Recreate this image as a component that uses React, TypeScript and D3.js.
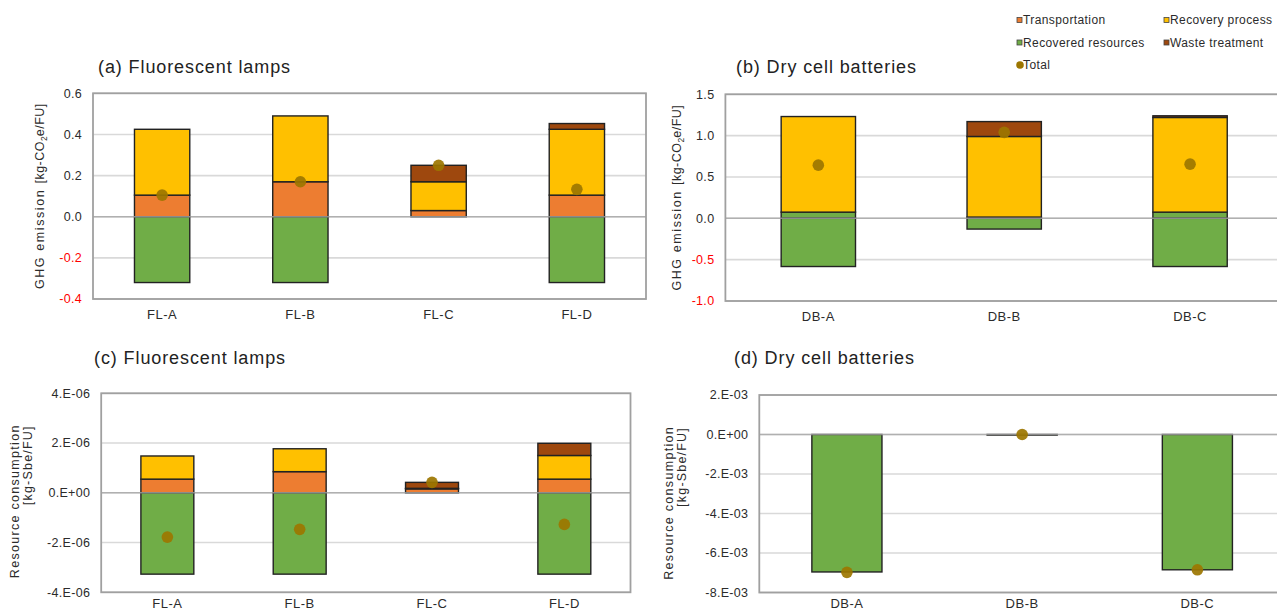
import * as d3 from "d3";

// ---- data ----
const flCategories = ["FL-A", "FL-B", "FL-C", "FL-D"];
const dbCategories = ["DB-A", "DB-B", "DB-C"];

// (a) GHG emission, fluorescent lamps [kg-CO2e/FU]
const flGhgTransport = [0.105, 0.17, 0.03, 0.105];
const flGhgRecovery = [0.32, 0.32, 0.14, 0.32];
const flGhgWaste = [0, 0, 0.08, 0.028];
const flGhgResources = [-0.32, -0.32, 0, -0.32];
const flGhgTotal = [0.105, 0.17, 0.25, 0.133];

// (b) GHG emission, dry cell batteries [kg-CO2e/FU]
const dbGhgResourcesGain = [0.075, 0.015, 0.075];
const dbGhgTransport = [0, 0, 0];
const dbGhgRecovery = [1.156, 0.975, 1.145];
const dbGhgWaste = [0, 0.18, 0.02];
const dbGhgResources = [-0.583, -0.13, -0.583];
const dbGhgTotal = [0.643, 1.04, 0.655];

// (c) resource consumption, fluorescent lamps [kg-Sbe/FU]
const flResTransport = [0.55e-6, 0.85e-6, 0.16e-6, 0.55e-6];
const flResRecovery = [0.93e-6, 0.92e-6, 0.02e-6, 0.95e-6];
const flResWaste = [0, 0, 0.24e-6, 0.49e-6];
const flResResources = [-3.27e-6, -3.27e-6, 0, -3.27e-6];
const flResTotal = [-1.78e-6, -1.47e-6, 0.42e-6, -1.27e-6];

// (d) resource consumption, dry cell batteries [kg-Sbe/FU]
const dbResTransport = [0, 0, 0];
const dbResRecovery = [0, 0, 0];
const dbResWaste = [0, 0, 0];
const dbResResources = [-6.96e-3, -0.03e-3, -6.85e-3];
const dbResTotal = [-6.98e-3, 0, -6.85e-3];

const legendItems = ["Transportation", "Recovery process", "Recovered resources", "Waste treatment", "Total"];

const C = {
  transport: "#ED7D31",
  recovery: "#FFC000",
  resources: "#70AD47",
  waste: "#9E480E",
  total: "#9c7600",
};

const font = "'Liberation Sans', Arial, sans-serif";
const textColor = "#2b2b2b";

const fixed1 = (v: number) => {
  const s = v.toFixed(1);
  return s === "-0.0" ? "0.0" : s;
};

const sci = (v: number) => {
  if (Math.abs(v) < 1e-15) return "0.E+00";
  const e = Math.floor(Math.log10(Math.abs(v)) + 1e-9);
  const m = Math.round(v / Math.pow(10, e));
  const es = e < 0 ? "-" + String(-e).padStart(2, "0") : "+" + String(e).padStart(2, "0");
  return `${m}.E${es}`;
};

type Series = { color: string; values: number[] };

type PanelCfg = {
  title: string;
  titleX: number;
  titleY: number;
  left: number;
  right: number;
  top: number;
  bottom: number;
  domain: [number, number];
  step: number;
  format: (v: number) => string;
  redNegatives: boolean;
  categories: string[];
  series: Series[];
  totals: number[];
  yTitle: "ghg" | "res";
  yTitleX: number;
};

function Panel({ cfg }: { cfg: PanelCfg }) {
  const x = d3
    .scaleBand<string>()
    .domain(cfg.categories)
    .range([cfg.left, cfg.right])
    .paddingInner(0.6)
    .paddingOuter(0.3);
  const y = d3.scaleLinear().domain(cfg.domain).range([cfg.bottom, cfg.top]);
  const [d0, d1] = cfg.domain;
  const ticks = d3.range(Math.round((d1 - d0) / cfg.step) + 1).map((i) => d0 + i * cfg.step);

  const rects: JSX.Element[] = [];
  cfg.categories.forEach((c, i) => {
    let pos = 0;
    let neg = 0;
    cfg.series.forEach((s, j) => {
      const v = s.values[i];
      if (!v) return;
      let a: number, b: number;
      if (v > 0) {
        a = pos;
        b = pos + v;
        pos = b;
      } else {
        a = neg + v;
        b = neg;
        neg = a;
      }
      rects.push(
        <rect
          key={`${c}-${j}`}
          x={x(c)}
          width={x.bandwidth()}
          y={y(b)}
          height={Math.max(0.6, y(a) - y(b))}
          fill={s.color}
          stroke="#222"
          strokeWidth={1.4}
        />
      );
    });
  });

  const cy = (cfg.top + cfg.bottom) / 2;
  // keep category labels inside the picture
  const labelY = Math.min(cfg.bottom + 20, 607.5);

  return (
    <g fontFamily={font}>
      <text x={cfg.titleX} y={cfg.titleY} fontSize={18} letterSpacing={0.9} fill="#222">
        {cfg.title}
      </text>
      {ticks.map((t) => (
        <line key={"g" + t} x1={cfg.left} x2={cfg.right} y1={y(t)} y2={y(t)} stroke="#d9d9d9" strokeWidth={1.6} />
      ))}
      {rects}
      <line x1={cfg.left} x2={cfg.right} y1={y(0)} y2={y(0)} stroke="#a6a6a6" strokeWidth={1.4} opacity={0.8} />
      <rect
        x={cfg.left}
        y={cfg.top}
        width={cfg.right - cfg.left}
        height={cfg.bottom - cfg.top}
        fill="none"
        stroke="#a0a0a0"
        strokeWidth={1.8}
      />
      {ticks.map((t) => (
        <text
          key={"t" + t}
          x={cfg.left - 11}
          y={y(t)}
          dy="0.35em"
          textAnchor="end"
          fontSize={12.5}
          letterSpacing={0.3}
          fill={cfg.redNegatives && t < -1e-12 ? "#ff0000" : textColor}
        >
          {cfg.format(t)}
        </text>
      ))}
      {cfg.categories.map((c) => (
        <text
          key={"x" + c}
          x={(x(c) ?? 0) + x.bandwidth() / 2}
          y={labelY}
          textAnchor="middle"
          fontSize={13}
          letterSpacing={0.5}
          fill={textColor}
        >
          {c}
        </text>
      ))}
      {cfg.totals.map((t, i) => (
        <circle
          key={"d" + i}
          cx={(x(cfg.categories[i]) ?? 0) + x.bandwidth() / 2}
          cy={y(t)}
          r={5.8}
          fill={C.total}
          opacity={0.92}
        />
      ))}
      {cfg.yTitle === "ghg" ? (
        <text
          transform={`translate(${cfg.yTitleX},${cy}) rotate(-90)`}
          textAnchor="middle"
          fontSize={12.5}
          fill={textColor}
        >
          <tspan letterSpacing={1.6}>GHG emission </tspan>
          <tspan letterSpacing={0.5}>[kg-CO</tspan>
          <tspan fontSize={8.5} dy={3}>2</tspan>
          <tspan dy={-3} letterSpacing={0.5}>e/FU]</tspan>
        </text>
      ) : (
        <g>
          <text
            transform={`translate(${cfg.yTitleX},${cfg.top + 31}) rotate(-90)`}
            textAnchor="end"
            fontSize={12.5}
            letterSpacing={1.3}
            fill={textColor}
          >
            Resource consumption
          </text>
          <text
            transform={`translate(${cfg.yTitleX + 12.5},${cfg.top + 32}) rotate(-90)`}
            textAnchor="end"
            fontSize={12.5}
            letterSpacing={1.2}
            fill={textColor}
          >
            [kg-Sbe/FU]
          </text>
        </g>
      )}
    </g>
  );
}

function Legend() {
  const colors = [C.transport, C.recovery, C.resources, C.waste, C.total];
  const colX = [1017, 1164];
  const rowY = [24, 46.5, 69];
  return (
    <g fontFamily={font} fontSize={12} fill={textColor}>
      {legendItems.map((name, i) => {
        const cx = colX[i % 2];
        const by = rowY[Math.floor(i / 2)];
        return (
          <g key={name}>
            {name === "Total" ? (
              <circle cx={cx + 3} cy={by - 4} r={3.8} fill={colors[i]} />
            ) : (
              <rect x={cx} y={by - 6.5} width={5} height={5} fill={colors[i]} stroke="#444" strokeWidth={0.8} />
            )}
            <text x={cx + 6} y={by} letterSpacing={0.4}>
              {name}
            </text>
          </g>
        );
      })}
    </g>
  );
}

const panels: PanelCfg[] = [
  {
    title: "(a) Fluorescent lamps",
    titleX: 98,
    titleY: 73,
    left: 93,
    right: 646,
    top: 93.3,
    bottom: 299,
    domain: [-0.4, 0.6],
    step: 0.2,
    format: fixed1,
    redNegatives: true,
    categories: flCategories,
    series: [
      { color: C.transport, values: flGhgTransport },
      { color: C.recovery, values: flGhgRecovery },
      { color: C.waste, values: flGhgWaste },
      { color: C.resources, values: flGhgResources },
    ],
    totals: flGhgTotal,
    yTitle: "ghg",
    yTitleX: 44,
  },
  {
    title: "(b) Dry cell batteries",
    titleX: 736,
    titleY: 73,
    left: 725.4,
    right: 1283,
    top: 94.3,
    bottom: 301,
    domain: [-1, 1.5],
    step: 0.5,
    format: fixed1,
    redNegatives: true,
    categories: dbCategories,
    series: [
      { color: C.resources, values: dbGhgResourcesGain },
      { color: C.transport, values: dbGhgTransport },
      { color: C.recovery, values: dbGhgRecovery },
      { color: C.waste, values: dbGhgWaste },
      { color: C.resources, values: dbGhgResources },
    ],
    totals: dbGhgTotal,
    yTitle: "ghg",
    yTitleX: 681,
  },
  {
    title: "(c) Fluorescent lamps",
    titleX: 94,
    titleY: 364,
    left: 101.2,
    right: 630.5,
    top: 393.3,
    bottom: 592.3,
    domain: [-4e-6, 4e-6],
    step: 2e-6,
    format: sci,
    redNegatives: false,
    categories: flCategories,
    series: [
      { color: C.transport, values: flResTransport },
      { color: C.recovery, values: flResRecovery },
      { color: C.waste, values: flResWaste },
      { color: C.resources, values: flResResources },
    ],
    totals: flResTotal,
    yTitle: "res",
    yTitleX: 19,
  },
  {
    title: "(d) Dry cell batteries",
    titleX: 734,
    titleY: 364,
    left: 759.3,
    right: 1285,
    top: 395,
    bottom: 592.5,
    domain: [-8e-3, 2e-3],
    step: 2e-3,
    format: sci,
    redNegatives: false,
    categories: dbCategories,
    series: [
      { color: C.transport, values: dbResTransport },
      { color: C.recovery, values: dbResRecovery },
      { color: C.waste, values: dbResWaste },
      { color: C.resources, values: dbResResources },
    ],
    totals: dbResTotal,
    yTitle: "res",
    yTitleX: 673,
  },
];

export default function App() {
  return (
    <svg
      width={1277}
      height={609}
      style={{ position: "absolute", left: 0, top: 0, background: "#fff" }}
    >
      <rect width={1277} height={609} fill="#fff" />
      {panels.map((p) => (
        <Panel key={p.title} cfg={p} />
      ))}
      <Legend />
    </svg>
  );
}
